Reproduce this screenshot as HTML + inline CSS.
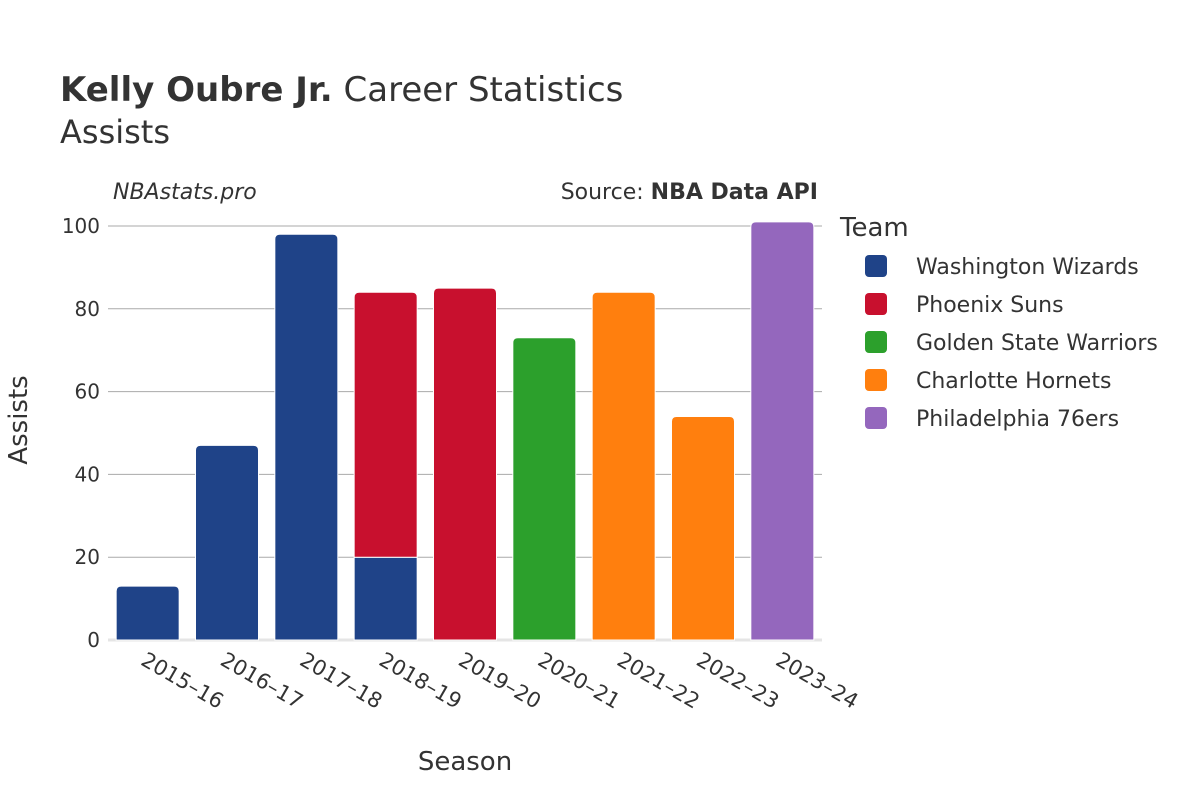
<!DOCTYPE html>
<html><head><meta charset="utf-8"><style>
body{margin:0;background:#fff}
svg{display:block;font-family:"DejaVu Sans","Liberation Sans",sans-serif;fill:#333}
</style></head><body>
<svg id="chart" width="1200" height="800" viewBox="0 0 1200 800">
<text x="60" y="101" font-size="34"><tspan font-weight="bold">Kelly Oubre Jr.</tspan> Career Statistics</text>
<text x="60" y="143" font-size="32">Assists</text>
<text x="113" y="199" font-size="22" font-style="italic">NBAstats.pro</text>
<text x="818" y="199" font-size="22" text-anchor="end">Source: <tspan font-weight="bold">NBA Data API</tspan></text>
<g id="grid"></g>
<g id="bars"></g>
<g id="xticks"></g>
<text x="465" y="770" font-size="26" text-anchor="middle">Season</text>
<text transform="translate(27,420) rotate(-90)" font-size="26" text-anchor="middle">Assists</text>
<text x="840" y="236" font-size="26">Team</text>
<g id="legend"></g>
</svg>
<script>
const seasons=["2015–16","2016–17","2017–18","2018–19","2019–20","2020–21","2021–22","2022–23","2023–24"];
const teams=["Washington Wizards","Phoenix Suns","Golden State Warriors","Charlotte Hornets","Philadelphia 76ers"];
const colors=["#1f4388","#c8102e","#2ca02c","#ff7f0e","#9467bd"];
const wizards=[13,47,98,20,0,0,0,0,0];
const suns=[0,0,0,64,85,0,0,0,0];
const warriors=[0,0,0,0,0,73,0,0,0];
const hornets=[0,0,0,0,0,0,84,54,0];
const sixers=[0,0,0,0,0,0,0,0,101];
const yTicks=[0,20,40,60,80,100];
const series=[wizards,suns,warriors,hornets,sixers];
const NS="http://www.w3.org/2000/svg";
const x0=108,x1=822,y0=640,yScale=(640-226)/100;
const bw=(x1-x0)/seasons.length,barW=63;
const y=v=>y0-v*yScale, xc=i=>x0+bw*(i+0.5);
function mk(t,a,p){const e=document.createElementNS(NS,t);for(const k in a)e.setAttribute(k,a[k]);p.appendChild(e);return e;}
const grid=document.getElementById('grid');
yTicks.forEach(t=>{
 const l=mk('line',{x1:x0,x2:x1,y1:y(t),y2:y(t),stroke:t===0?'#e5e5e5':'#aaa','stroke-width':t===0?3:1},grid);
 
 
 const tx=mk('text',{x:100,y:y(t)+7,'font-size':20,'text-anchor':'end'},grid);tx.textContent=t;
 
 
});
const bars=document.getElementById('bars');
seasons.forEach((s,i)=>{
 let base=0;const segs=[];
 series.forEach((sr,k)=>{if(sr[i]>0){segs.push([k,base,base+sr[i]]);base+=sr[i];}});
 segs.forEach((sg,j)=>{
  const top=j===segs.length-1,x=xc(i)-barW/2,yt=y(sg[2]),yb=y(sg[1]),r=top?5:0;
  const d=`M${x},${yb}V${yt+r}Q${x},${yt} ${x+r},${yt}H${x+barW-r}Q${x+barW},${yt} ${x+barW},${yt+r}V${yb}Z`;
  const p=mk('path',{d:d,fill:colors[sg[0]],stroke:'#fff','stroke-width':1},bars);
  
  
 });
 const t=mk('text',{transform:`translate(${xc(i)-8},664) rotate(30)`,'font-size':21},document.getElementById('xticks'));
 t.textContent=s;
 
 
});
const lg=document.getElementById('legend');
teams.forEach((tm,k)=>{
 const g=mk('g',{},lg);
 
 
 const yy=266+k*38;
 mk('rect',{x:865,y:yy-11,width:22,height:22,rx:4,fill:colors[k]},g);
 const t=mk('text',{x:916,y:yy+8,'font-size':22},g);t.textContent=tm;
});
</script>
</body></html>
